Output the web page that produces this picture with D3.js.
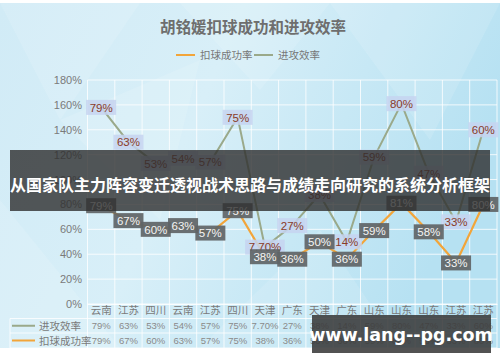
<!DOCTYPE html>
<html><head><meta charset="utf-8">
<script src="https://cdn.jsdelivr.net/npm/d3@7/dist/d3.min.js"></script>
<style>html,body{margin:0;padding:0;background:#fff;}svg{display:block;}</style>
</head><body>
<svg id="c" width="500" height="362"></svg>
<script>
const categories = ["云南","江苏","四川","云南","江苏","四川","天津","广东","天津","广东","山东","山东","山东","江苏","江苏"];
const spikeRate = [79,67,60,63,57,75,38,36,50,36,59,81,58,33,80];
const spikeLabels = ["79%","67%","60%","63%","57%","75%","38%","36%","50%","36%","59%","81%","58%","33%","80%"];
const attackEff = [79,63,53,54,57,75,7.7,27,38,14,59,80,47,33,60];
const attackLabels = ["79%","63%","53%","54%","57%","75%","7.70%","27%","38%","14%","59%","80%","47%","33%","60%"];
const yTicks = [0,20,40,60,80,100,120,140,160,180];
const title = "胡铭媛扣球成功和进攻效率";
const seriesNames = ["扣球成功率","进攻效率"];
const bannerText = "从国家队主力阵容变迁透视战术思路与成绩走向研究的系统分析框架";
const watermark = "www.lang--pg.com";

const svg = d3.select("#c");
const W = 500, H = 362;
const CJK = "'Noto Sans CJK SC','Noto Sans',sans-serif";
const LAT = "'Liberation Sans',Arial,sans-serif";

// background
const defs = svg.append("defs");
const g1 = defs.append("linearGradient").attr("id","bg").attr("x1","0").attr("y1","0").attr("x2","1").attr("y2","0.3");
g1.append("stop").attr("offset","0").attr("stop-color","#d1ebf6");
g1.append("stop").attr("offset","0.45").attr("stop-color","#d8eff8");
g1.append("stop").attr("offset","1").attr("stop-color","#b6e1f2");
svg.append("rect").attr("width",W).attr("height",H).attr("fill","#fff");
svg.append("rect").attr("x",0).attr("y",3).attr("width",W).attr("height",345).attr("fill","url(#bg)");
// faint low-poly facets
const facets = [
  [[0,3],[140,3],[60,120]],[[180,3],[330,3],[260,90]],[[330,3],[500,3],[430,140]],
  [[0,200],[120,348],[0,348]],[[200,348],[320,230],[400,348]],[[60,120],[200,60],[160,220]]
];
svg.append("g").selectAll("polygon").data(facets).join("polygon")
  .attr("points",d=>d.map(p=>p.join(",")).join(" "))
  .attr("fill","#ffffff").attr("opacity",0.12);

// title and legend
svg.append("text").attr("x",253).attr("y",33).attr("text-anchor","middle")
  .attr("font-family",CJK).attr("font-weight","bold").attr("font-size",15.5)
  .attr("fill","#6e6e6e").text(title);
const legendColors = ["#f2a53a","#9aa98a"];
const lg = svg.append("g").attr("font-family",CJK).attr("font-size",10.5).attr("fill","#777");
const legendX = [176,254];
seriesNames.forEach((n,i)=>{
  lg.append("line").attr("x1",legendX[i]).attr("x2",legendX[i]+19).attr("y1",55).attr("y2",55)
    .attr("stroke",legendColors[i]).attr("stroke-width",2);
  lg.append("text").attr("x",legendX[i]+24).attr("y",59).text(n);
});

// scales
const x = d3.scaleBand().domain(d3.range(categories.length)).range([87.5,497]);
const y = d3.scaleLinear().domain([0,180]).range([304,80]);

// grid
const grid = svg.append("g");
grid.selectAll("line.h").data(yTicks).join("line").attr("class","h")
  .attr("x1",87.5).attr("x2",497).attr("y1",d=>y(d)).attr("y2",d=>y(d))
  .attr("stroke","#ffffff").attr("stroke-opacity",0.8).attr("stroke-width",1);
const vb = d3.range(categories.length+1).map(i=>i===categories.length? 497 : x(i));
grid.selectAll("line.v").data(vb).join("line").attr("class","v")
  .attr("x1",d=>d).attr("x2",d=>d).attr("y1",80).attr("y2",348)
  .attr("stroke","#ffffff").attr("stroke-opacity",0.8).attr("stroke-width",1);

// y axis
const yAxis = d3.axisLeft(y).tickValues(yTicks).tickFormat(d=>d+"%").tickSize(0).tickPadding(6);
const ya = svg.append("g").attr("transform","translate(88,0)").call(yAxis);
ya.select(".domain").remove();
ya.selectAll("text").attr("font-family",LAT).attr("font-size",11).attr("fill","#7a7a7a");

// table
const tb = svg.append("g");
const rowY = [304,318.5,333,348];
[318.5,333,348].forEach(yy=>{
  tb.append("line").attr("x1",10).attr("x2",497).attr("y1",yy).attr("y2",yy)
    .attr("stroke","#ffffff").attr("stroke-opacity",0.8);
});
tb.append("line").attr("x1",10).attr("x2",10).attr("y1",318.5).attr("y2",348).attr("stroke","#ffffff").attr("stroke-opacity",0.8);
const xAxis = d3.axisBottom(x).tickFormat(i=>categories[i]).tickSize(0).tickPadding(3);
const xa = svg.append("g").attr("transform","translate(0,304)").call(xAxis);
xa.select(".domain").attr("stroke","#ffffff").attr("stroke-opacity",0.8);
xa.selectAll("text").attr("font-family",CJK).attr("font-size",10.5).attr("fill","#7a7a7a");
const tableRows = [{name:seriesNames[1],color:legendColors[1],vals:attackLabels},
                   {name:seriesNames[0],color:legendColors[0],vals:spikeLabels}];
tableRows.forEach((r,ri)=>{
  const cy = (rowY[ri+1]+rowY[ri+2])/2;
  tb.append("line").attr("x1",12).attr("x2",35).attr("y1",cy).attr("y2",cy)
    .attr("stroke",r.color).attr("stroke-width",2);
  tb.append("text").attr("x",39).attr("y",cy+4).attr("font-family",CJK).attr("font-size",10.5)
    .attr("fill","#7a7a7a").text(r.name);
  tb.selectAll(null).data(r.vals).join("text")
    .attr("x",(d,i)=>x(i)+x.bandwidth()/2).attr("y",cy+3.5).attr("text-anchor","middle")
    .attr("font-family",LAT).attr("font-size",9.5).attr("fill","#8a8a8a").text(d=>d);
});

// stacked lines
const rows = categories.map((c,i)=>({i, spike:spikeRate[i], eff:attackEff[i]}));
const stack = d3.stack().keys(["spike","eff"])(rows);
const cx = i => x(i)+x.bandwidth()/2;
const line = d3.line().x((d,i)=>cx(i)).y(d=>y(d[1]));
svg.append("path").datum(stack[1]).attr("d",line).attr("fill","none")
  .attr("stroke",legendColors[1]).attr("stroke-width",2);
svg.append("path").datum(stack[0]).attr("d",line).attr("fill","none")
  .attr("stroke",legendColors[0]).attr("stroke-width",2.2);

// labels
function labels(series, texts, fill, fillOp, color){
  const g = svg.append("g");
  series.forEach((d,i)=>{
    const t = g.append("text").attr("x",cx(i)).attr("y",y(d[1])+4.2).attr("text-anchor","middle")
      .attr("font-family",LAT).attr("font-size",11.5).attr("fill",color).text(texts[i]);
    const w = t.node().getComputedTextLength();
    g.insert("rect","text").attr("x",cx(i)-w/2-3.5).attr("y",y(d[1])-7.5).attr("width",w+7).attr("height",15)
      .attr("fill",fill).attr("fill-opacity",fillOp);
  });
}
labels(stack[1], attackLabels, "#c6d4f0", 0.85, "#8a3b28");
labels(stack[0], spikeLabels, "#5f6466", 0.92, "#f4f4f4");

// overlay banner
svg.append("rect").attr("x",10).attr("y",150).attr("width",480).attr("height",61)
  .attr("fill","#2e2e2e").attr("fill-opacity",0.8);
svg.append("text").attr("x",250).attr("y",191).attr("text-anchor","middle")
  .attr("font-family",CJK).attr("font-weight","bold").attr("font-size",16)
  .attr("fill","#ffffff").text(bannerText);

// watermark
svg.append("rect").attr("x",312).attr("y",315).attr("width",179).attr("height",38)
  .attr("fill","#3a3a3a").attr("fill-opacity",0.88);
svg.append("text").attr("x",401).attr("y",341).attr("text-anchor","middle")
  .attr("font-family","'DejaVu Sans',sans-serif").attr("font-weight","bold").attr("font-size",17.5)
  .attr("fill","#ffffff").text(watermark);
</script>
</body></html>
